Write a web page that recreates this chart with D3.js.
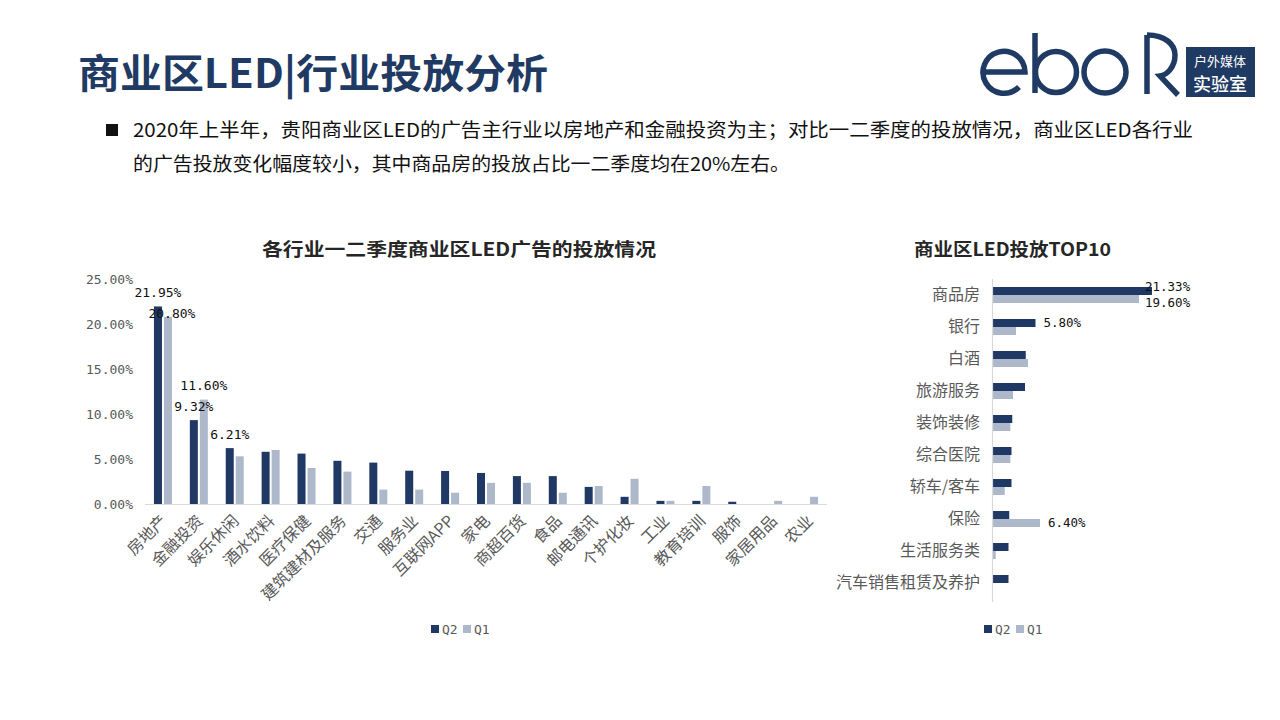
<!DOCTYPE html>
<html><head><meta charset="utf-8">
<script src="https://cdn.jsdelivr.net/npm/d3@7"></script>
<style>
html,body{margin:0;padding:0;background:#fff;}
svg{display:block;}
</style></head>
<body>
<svg id="chart" width="1280" height="720"></svg>
<script>
// ---------- data ----------
const categories = ["房地产","金融投资","娱乐休闲","酒水饮料","医疗保健","建筑建材及服务","交通","服务业","互联网APP","家电","商超百货","食品","邮电通讯","个护化妆","工业","教育培训","服饰","家居用品","农业"];
const q2Values = [21.95, 9.32, 6.21, 5.8, 5.6, 4.8, 4.6, 3.7, 3.67, 3.45, 3.1, 3.1, 1.9, 0.8, 0.35, 0.35, 0.25, 0, 0];
const q1Values = [20.80, 11.60, 5.3, 6.0, 4.0, 3.6, 1.6, 1.6, 1.25, 2.35, 2.35, 1.25, 2.0, 2.8, 0.35, 2.0, 0, 0.35, 0.8];
const q2Labelled = [0, 1, 2];
const q1Labelled = [0, 1];
const yTicks = [0, 5, 10, 15, 20, 25];

const topCategories = ["商品房","银行","白酒","旅游服务","装饰装修","综合医院","轿车/客车","保险","生活服务类","汽车销售租赁及养护"];
const topQ2 = [21.33, 5.80, 4.5, 4.4, 2.7, 2.6, 2.6, 2.3, 2.2, 2.2];
const topQ1 = [19.60, 3.2, 4.8, 2.8, 2.45, 2.45, 1.7, 6.40, 0.5, 0];
const topQ2Labelled = [0, 1];
const topQ1Labelled = [0, 7];

const seriesNames = ["Q2", "Q1"];
const seriesColors = {Q2: "#203864", Q1: "#ADB9CA"};

const mainTitle = "商业区LED|行业投放分析";
const bulletLines = [
  "2020年上半年，贵阳商业区LED的广告主行业以房地产和金融投资为主；对比一二季度的投放情况，商业区LED各行业",
  "的广告投放变化幅度较小，其中商品房的投放占比一二季度均在20%左右。"
];
const leftTitle = "各行业一二季度商业区LED广告的投放情况";
const rightTitle = "商业区LED投放TOP10";

// ---------- setup ----------
const svg = d3.select("#chart");
const CJK = "'Noto Sans CJK SC','Noto Sans',sans-serif";
const MONO = "'DejaVu Sans Mono','Liberation Mono',monospace";
const NAVY = "#1F3A63";
const fmt = v => v.toFixed(2) + "%";

// ---------- header ----------
svg.append("text").attr("x", 78).attr("y", 88)
  .attr("font-family", CJK).attr("font-weight", 700).attr("font-size", 40)
  .attr("fill", NAVY).attr("textLength", 470).attr("lengthAdjust", "spacingAndGlyphs")
  .text(mainTitle);

svg.append("rect").attr("x", 106).attr("y", 124).attr("width", 12).attr("height", 12).attr("fill", "#111");
const lineLens = [1060, 657];
bulletLines.forEach((t, i) => {
  svg.append("text").attr("x", 133).attr("y", 137 + i * 34)
    .attr("font-family", CJK).attr("font-size", 19).attr("fill", "#111")
    .attr("textLength", lineLens[i]).attr("lengthAdjust", "spacingAndGlyphs")
    .text(t);
});

// logo
const logo = svg.append("g").attr("fill", "none").attr("stroke", NAVY).attr("stroke-width", 5.5);
logo.append("path").attr("d", "M983,72 H1025 A21,21 0 1 0 1019,87");
logo.append("path").attr("d", "M1035,33 V93");
logo.append("circle").attr("cx", 1056).attr("cy", 72).attr("r", 20.5);
logo.append("circle").attr("cx", 1105).attr("cy", 72).attr("r", 21);
logo.append("path").attr("d", "M1147,94 V35");
logo.append("path").attr("d", "M1147,35 C1166,35 1175,45 1175,55 C1175,67 1167,75 1160,76 L1178,95");
svg.append("rect").attr("x", 1186).attr("y", 47).attr("width", 69).attr("height", 50).attr("fill", NAVY);
svg.append("text").attr("x", 1220).attr("y", 66).attr("text-anchor", "middle")
  .attr("font-family", CJK).attr("font-size", 13).attr("fill", "#fff").text("户外媒体");
svg.append("text").attr("x", 1220).attr("y", 91).attr("text-anchor", "middle")
  .attr("font-family", CJK).attr("font-size", 18).attr("font-weight", 500).attr("fill", "#fff").text("实验室");

// ---------- left chart ----------
const L = {x0: 145, x1: 827, y0: 504, y1: 279};
const x0 = d3.scaleBand().domain(categories).range([L.x0, L.x1]);
const bw = x0.bandwidth();
const x1 = d3.scaleBand().domain(seriesNames).range([bw / 2 - 9, bw / 2 + 9]).paddingInner(0.2);
const y = d3.scaleLinear().domain([0, 25]).range([L.y0, L.y1]);

svg.append("text").attr("x", 459).attr("y", 256).attr("text-anchor", "middle")
  .attr("font-family", CJK).attr("font-weight", 700).attr("font-size", 18).attr("fill", "#262626")
  .attr("textLength", 394).attr("lengthAdjust", "spacingAndGlyphs").text(leftTitle);

const yAxis = svg.append("g").attr("transform", `translate(${L.x0 - 12},0)`)
  .call(d3.axisLeft(y).tickValues(yTicks).tickFormat(fmt).tickSize(0));
yAxis.select(".domain").remove();
yAxis.selectAll("text").attr("font-family", MONO).attr("font-size", 13).attr("fill", "#595959").attr("x", 0);

const seriesData = {Q2: q2Values, Q1: q1Values};
const groups = svg.append("g").selectAll("g").data(categories).join("g")
  .attr("transform", d => `translate(${x0(d)},0)`);
groups.selectAll("rect").data((d, i) => seriesNames.map(s => ({s, v: seriesData[s][i]}))).join("rect")
  .attr("x", d => x1(d.s)).attr("width", x1.bandwidth())
  .attr("y", d => y(d.v)).attr("height", d => y(0) - y(d.v))
  .attr("fill", d => seriesColors[d.s]);

// baseline
svg.append("line").attr("x1", L.x0).attr("x2", L.x1).attr("y1", L.y0 + 0.5).attr("y2", L.y0 + 0.5)
  .attr("stroke", "#D9D9D9").attr("stroke-width", 1.2);

// category labels
const xAxis = svg.append("g").attr("transform", `translate(0,${L.y0})`)
  .call(d3.axisBottom(x0).tickSize(0));
xAxis.select(".domain").remove();
xAxis.selectAll("text")
  .attr("font-family", CJK).attr("font-size", 16).attr("fill", "#595959")
  .attr("text-anchor", "end").attr("dy", "0.35em")
  .attr("transform", "translate(1,14) rotate(-45)").attr("y", 0).attr("x", 0);

// data labels (left)
const labelNudge = {"Q1-0": [4, 11]};
const leftLabels = [];
q2Labelled.forEach(i => leftLabels.push({s: "Q2", i, v: q2Values[i]}));
q1Labelled.forEach(i => leftLabels.push({s: "Q1", i, v: q1Values[i]}));
svg.append("g").selectAll("text").data(leftLabels).join("text")
  .attr("x", d => x0(categories[d.i]) + x1(d.s) + x1.bandwidth() / 2 + (labelNudge[d.s + "-" + d.i] || [0, 0])[0])
  .attr("y", d => y(d.v) - 14 + (labelNudge[d.s + "-" + d.i] || [0, 0])[1])
  .attr("dy", "0.35em").attr("text-anchor", "middle")
  .attr("font-family", MONO).attr("font-size", 13).attr("fill", "#111")
  .text(d => fmt(d.v));

// legend
function legend(cx, cy) {
  const g = svg.append("g").attr("transform", `translate(${cx - 30},${cy})`);
  seriesNames.forEach((s, k) => {
    g.append("rect").attr("x", k * 32).attr("y", -4).attr("width", 8).attr("height", 8).attr("fill", seriesColors[s]);
    g.append("text").attr("x", k * 32 + 11).attr("y", 0).attr("dy", "0.35em")
      .attr("font-family", MONO).attr("font-size", 13).attr("fill", "#595959").text(s);
  });
}
legend(461, 629);

// ---------- right chart ----------
const R = {x0: 992, y0: 279, y1: 599};
const xr = d3.scaleLinear().domain([0, 22]).range([R.x0, R.x0 + 165]);
const yr = d3.scaleBand().domain(topCategories).range([R.y0, R.y1]);
const yr1 = d3.scaleBand().domain(seriesNames).range([yr.bandwidth() / 2 - 8, yr.bandwidth() / 2 + 8]);

svg.append("text").attr("x", 1012.5).attr("y", 256).attr("text-anchor", "middle")
  .attr("font-family", CJK).attr("font-weight", 700).attr("font-size", 18).attr("fill", "#262626")
  .attr("textLength", 197).attr("lengthAdjust", "spacingAndGlyphs").text(rightTitle);

const topSeries = {Q2: topQ2, Q1: topQ1};
const rg = svg.append("g").selectAll("g").data(topCategories).join("g")
  .attr("transform", d => `translate(0,${yr(d)})`);
rg.selectAll("rect").data((d, i) => seriesNames.map(s => ({s, v: topSeries[s][i]}))).join("rect")
  .attr("x", xr(0)).attr("y", d => yr1(d.s)).attr("height", yr1.bandwidth())
  .attr("width", d => xr(d.v) - xr(0)).attr("fill", d => seriesColors[d.s]);

svg.append("line").attr("x1", R.x0 + 0.5).attr("x2", R.x0 + 0.5).attr("y1", R.y0).attr("y2", R.y1 + 3)
  .attr("stroke", "#D9D9D9").attr("stroke-width", 1.2);

const yrAxis = svg.append("g").attr("transform", `translate(${R.x0 - 12},0)`)
  .call(d3.axisLeft(yr).tickSize(0));
yrAxis.select(".domain").remove();
yrAxis.selectAll("text").attr("font-family", CJK).attr("font-size", 16).attr("fill", "#595959").attr("x", 0);

const rightLabels = [];
topQ2Labelled.forEach(i => rightLabels.push({s: "Q2", i, v: topQ2[i]}));
topQ1Labelled.forEach(i => rightLabels.push({s: "Q1", i, v: topQ1[i]}));
const labelMaxX = 1145;
svg.append("g").selectAll("text").data(rightLabels).join("text")
  .attr("x", d => Math.min(xr(d.v) + 8, labelMaxX))
  .attr("y", d => {
    const base = yr(topCategories[d.i]) + yr1(d.s) + yr1.bandwidth() / 2;
    const clamped = xr(d.v) + 8 > labelMaxX;
    return clamped ? base + (d.s === "Q2" ? -4 : 4) : base;
  })
  .attr("dy", "0.35em")
  .attr("font-family", MONO).attr("font-size", 12.5).attr("fill", "#111")
  .text(d => fmt(d.v));

legend(1014, 629);
</script>
</body></html>
